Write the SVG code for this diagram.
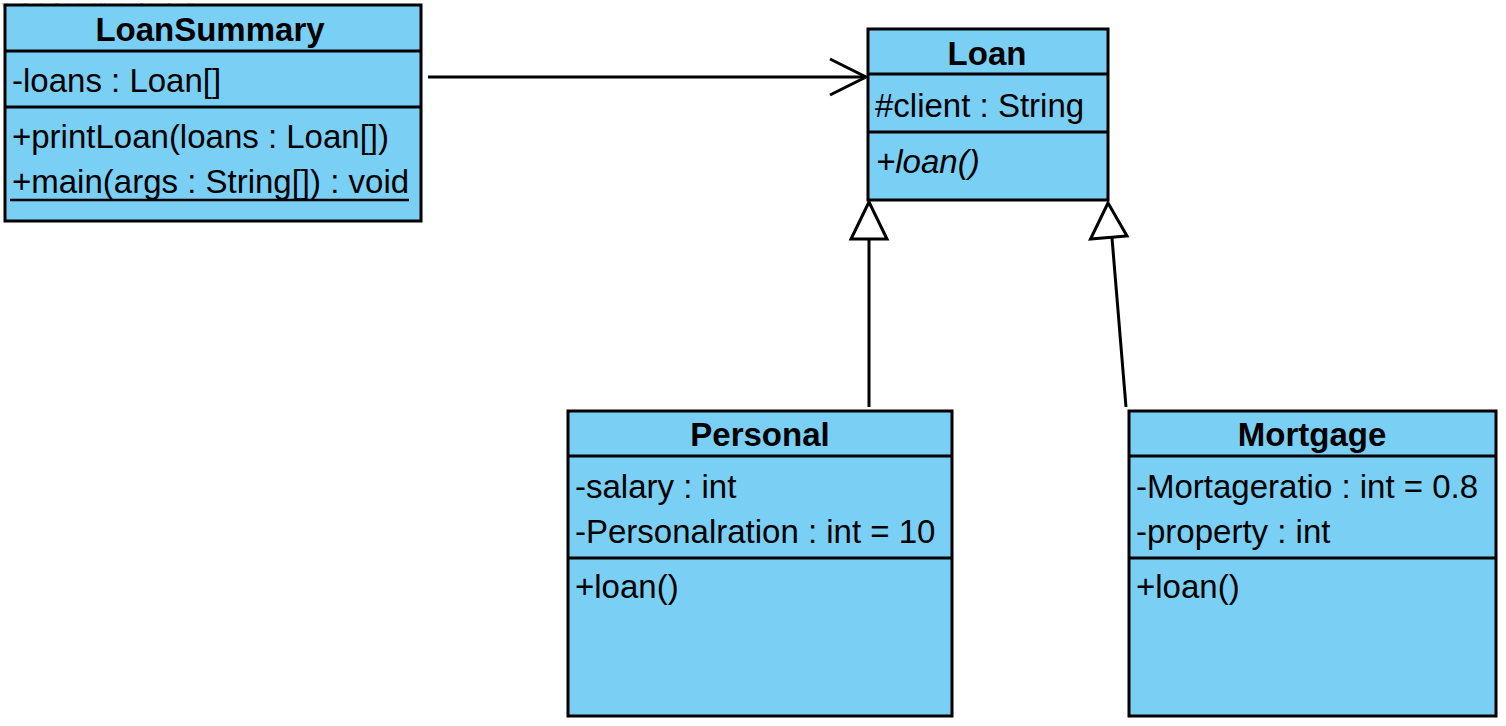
<svg xmlns="http://www.w3.org/2000/svg" width="1506" height="726" viewBox="0 0 1506 726">
<style>
.box{fill:#7ACFF5;stroke:#000;stroke-width:3}
.sep{stroke:#000;stroke-width:3}
.t{font-family:"Liberation Sans",Arial,sans-serif;font-size:33px;fill:#000}
.b{font-weight:bold;text-anchor:middle}
.i{font-style:italic}
.c{fill:none;stroke:#000;stroke-width:3}
.tri{fill:#fff;stroke:#000;stroke-width:3;stroke-linejoin:miter}
</style>
<rect width="1506" height="726" fill="#fff"/>
<text x="2" y="8" font-family="Liberation Sans,Arial,sans-serif" font-size="7" fill="#999">Visual Paradigm Professional(s1(Vocational Training Council))</text>
<g id="connectors">
<line class="c" x1="428" y1="77" x2="865" y2="77"/>
<polyline class="c" points="830,59 866,77 830,95"/>
<line class="c" x1="869" y1="407" x2="869" y2="239"/>
<polygon class="tri" points="869,202 851,239 887,239"/>
<line class="c" x1="1126" y1="407" x2="1112" y2="238"/>
<polygon class="tri" points="1108,203 1090.5,239 1127,236"/>
</g>
<g id="LoanSummary">
<rect class="box" x="5" y="5" width="416" height="216"/>
<line class="sep" x1="5" y1="51" x2="421" y2="51"/>
<line class="sep" x1="5" y1="107" x2="421" y2="107"/>
<text class="t b" x="210" y="41">LoanSummary</text>
<text class="t" x="12" y="92">-loans : Loan[]</text>
<text class="t" x="12" y="148">+printLoan(loans : Loan[])</text>
<text class="t" x="12" y="193">+main(args : String[]) : void</text>
<line stroke="#000" stroke-width="2.5" x1="10" y1="200" x2="409" y2="200"/>
</g>
<g id="Loan">
<rect class="box" x="868" y="29" width="240" height="171"/>
<line class="sep" x1="868" y1="74" x2="1108" y2="74"/>
<line class="sep" x1="868" y1="132" x2="1108" y2="132"/>
<text class="t b" x="987" y="65">Loan</text>
<text class="t" x="875" y="117">#client : String</text>
<text class="t i" x="876" y="173">+loan()</text>
</g>
<g id="Personal">
<rect class="box" x="568" y="411" width="384" height="305"/>
<line class="sep" x1="568" y1="456" x2="952" y2="456"/>
<line class="sep" x1="568" y1="558" x2="952" y2="558"/>
<text class="t b" x="760" y="446">Personal</text>
<text class="t" x="575" y="498">-salary : int</text>
<text class="t" x="575" y="543">-Personalration : int = 10</text>
<text class="t" x="575" y="598">+loan()</text>
</g>
<g id="Mortgage">
<rect class="box" x="1129" y="411" width="367" height="305"/>
<line class="sep" x1="1129" y1="456" x2="1496" y2="456"/>
<line class="sep" x1="1129" y1="558" x2="1496" y2="558"/>
<text class="t b" x="1312" y="446">Mortgage</text>
<text class="t" x="1136" y="498">-Mortageratio : int = 0.8</text>
<text class="t" x="1136" y="543">-property : int</text>
<text class="t" x="1136" y="598">+loan()</text>
</g>
</svg>
